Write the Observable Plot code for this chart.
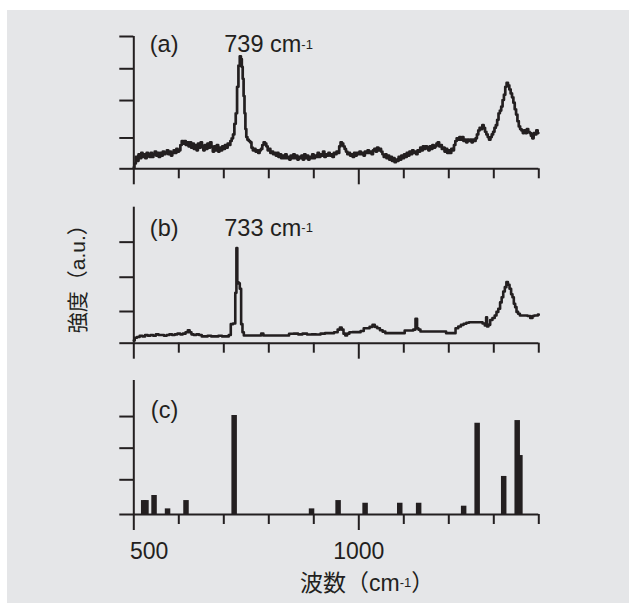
<!DOCTYPE html>
<html><head><meta charset="utf-8">
<script src="https://cdn.jsdelivr.net/npm/d3@7"></script>
<script src="https://cdn.jsdelivr.net/npm/@observablehq/plot@0.6"></script>
<style>
html,body{margin:0;padding:0;background:#fff;}
#wrap{position:relative;width:629px;height:603px;overflow:hidden;}
#bg{position:absolute;left:7px;top:10px;right:0;bottom:0;background:#e5e6e8;}
</style></head><body>
<div id="wrap"><div id="bg"></div></div>
<script>
// ---- data (wavenumber cm-1, relative intensity 0-100 of each panel) ----
const spectrumA = [[500,1],[503,4],[506,9],[509,6],[512,11],[515,8],[518,12],[521,9],[524,11],[527,8],[530,12],[533,10],[536,9],[539,12],[542,9],[545,11],[548,13],[551,10],[554,12],[557,9],[560,12],[563,10],[566,13],[569,11],[572,12],[575,14],[578,11],[581,13],[584,10],[587,12],[590,14],[593,12],[596,15],[599,13],[602,14],[605,18],[608,21],[611,19],[614,21],[617,18],[620,20],[623,17],[626,20],[629,16],[632,19],[635,15],[638,18],[641,14],[644,19],[647,16],[650,20],[653,17],[656,14],[659,18],[662,15],[665,19],[668,16],[671,20],[674,17],[677,13],[680,17],[683,14],[686,18],[689,13],[692,16],[695,14],[698,17],[701,15],[704,18],[707,16],[710,19],[713,18],[716,21],[719,23],[722,26],[725,34],[728,42],[731,62],[734,78],[737,85],[739,83],[741,77],[743,68],[745,55],[747,42],[749,30],[751,24],[754,22],[757,21],[760,20],[763,16],[766,14],[769,15],[772,13],[775,14],[778,12],[781,14],[784,15],[787,18],[790,20],[793,19],[796,17],[799,14],[802,15],[805,12],[808,13],[811,11],[814,12],[817,10],[820,12],[823,9],[826,11],[829,8],[832,10],[835,8],[838,11],[841,8],[844,9],[847,7],[850,10],[853,8],[856,11],[859,8],[862,10],[865,7],[868,9],[871,8],[874,10],[877,7],[880,11],[883,8],[886,10],[889,7],[892,9],[895,8],[898,11],[901,8],[904,10],[907,9],[910,12],[913,9],[916,11],[919,10],[922,13],[925,9],[928,11],[931,10],[934,12],[937,10],[940,11],[943,9],[946,12],[949,11],[952,13],[955,12],[958,17],[961,20],[964,19],[967,17],[970,15],[973,13],[976,11],[979,12],[982,10],[985,11],[988,9],[991,12],[994,10],[997,12],[1000,11],[1003,13],[1006,11],[1009,12],[1012,10],[1015,13],[1018,12],[1021,14],[1024,12],[1027,13],[1030,11],[1033,14],[1036,15],[1039,13],[1042,16],[1045,14],[1048,15],[1051,13],[1054,11],[1057,9],[1060,11],[1063,8],[1066,10],[1069,7],[1072,9],[1075,6],[1078,8],[1081,5],[1084,7],[1087,6],[1090,9],[1093,7],[1096,10],[1099,8],[1102,11],[1105,9],[1108,12],[1111,10],[1114,13],[1117,11],[1120,14],[1123,12],[1126,13],[1129,11],[1132,14],[1135,13],[1138,16],[1141,14],[1144,17],[1147,15],[1150,17],[1153,16],[1156,14],[1159,17],[1162,15],[1165,18],[1168,16],[1171,17],[1174,19],[1177,20],[1180,17],[1183,18],[1186,15],[1189,16],[1192,13],[1195,15],[1198,12],[1201,14],[1204,12],[1207,15],[1210,14],[1213,18],[1216,21],[1219,23],[1222,22],[1225,24],[1228,22],[1231,24],[1234,21],[1237,22],[1240,20],[1243,22],[1246,21],[1249,22],[1252,20],[1255,22],[1258,21],[1261,23],[1264,26],[1267,29],[1270,31],[1273,30],[1276,33],[1279,31],[1282,28],[1285,26],[1288,24],[1291,22],[1294,24],[1297,26],[1300,28],[1303,31],[1306,33],[1309,37],[1312,42],[1315,44],[1318,47],[1321,52],[1324,56],[1327,62],[1330,65],[1333,63],[1336,60],[1339,57],[1342,54],[1345,50],[1348,45],[1351,41],[1354,36],[1357,32],[1360,30],[1363,29],[1366,27],[1369,29],[1372,27],[1375,30],[1378,28],[1381,27],[1384,25],[1387,23],[1390,27],[1393,26],[1396,29],[1399,27]];

const spectrumB = [[500,2],[504,4],[510,4.5],[516,5.5],[522,5],[528,6],[534,5.5],[540,6],[546,5.5],[552,6.5],[558,6],[564,6],[570,5.5],[576,6],[582,6.5],[588,6],[594,6.5],[600,7],[606,6.5],[612,7],[618,8],[622,9.5],[626,8],[630,6.5],[636,6],[642,6.5],[648,6],[654,5],[660,5],[668,5.5],[676,5],[684,5],[692,5.5],[700,5],[708,5],[714,6],[717,14],[724,14.5],[727,37],[729,70],[731,45],[734,44],[737,40],[740,14],[743,8],[746,5.7],[750,5.7],[760,5.7],[770,5.7],[780,5.7],[786,7],[790,5.7],[800,5.7],[810,5.7],[820,5.7],[830,5.7],[840,5.7],[850,6.9],[860,7],[870,6.5],[880,7],[890,6.4],[900,6.5],[910,6.4],[920,7],[930,7.4],[940,7.4],[950,8],[956,10],[960,11.5],[964,10],[968,7],[972,5.7],[976,7],[982,8],[990,8.1],[1000,8.1],[1008,9],[1014,11],[1020,11],[1028,12],[1033,13.5],[1038,12],[1044,11],[1050,9.5],[1056,8.5],[1062,7.4],[1070,7.4],[1080,7.4],[1090,7.4],[1100,7.4],[1104,9.3],[1110,9.3],[1118,9.3],[1124,10],[1128,17.9],[1131,11],[1134,10],[1140,8.6],[1150,8.6],[1160,8.6],[1170,8.6],[1180,8.6],[1190,8.6],[1198,7.4],[1206,7.4],[1212,7.4],[1218,11],[1224,12.3],[1230,13.5],[1236,14.3],[1242,15],[1248,15.4],[1254,15.4],[1260,15.4],[1266,15.4],[1272,15.4],[1278,14.5],[1282,13],[1284,19],[1286,12.3],[1290,13.5],[1294,17],[1300,18.5],[1304,20.4],[1308,23],[1312,25.3],[1316,30],[1319,33.8],[1323,38],[1326,41.2],[1330,44.9],[1333,43],[1337,40],[1340,36],[1343,33.8],[1346,29],[1349,26.5],[1352,23],[1356,21.6],[1360,20.4],[1366,20.4],[1372,20.4],[1378,20],[1384,18.5],[1388,20],[1392,20.4],[1396,20.4],[1400,21]];

const barsC = [[522,10.4],[527,10.4],[545,14.2],[575,4.2],[616,10.4],[723,73.9],[895,4.2],[954,10.4],[1014,8.4],[1091,8.4],[1133,8.4],[1233,6.2],[1263,68.1],[1322,28.4],[1352,70.1],[1358,44]];

const yTicksA = [0, 23.3, 51.6, 75.6, 100];
const yTicksB = [0, 23.3, 48.5, 74.3];
const yTicksC = [0, 25.9, 49.5, 73.1];
const majorTicks = [500, 1000];
const minorTicks = [600, 700, 800, 900, 1100, 1200, 1300, 1400];
const tickLabels = ["500", "1000"];
const panelLabels = ["(a)", "(b)", "(c)"];
const peakLabels = ["739 cm-1", "733 cm-1"];
const xTitle = "波数（cm-1）";
const yTitle = "強度（a.u.）";

// ---- drawing ----
const ink = "#231f20";
const latin = "'Liberation Sans', Arial, Helvetica, sans-serif";
const mixed = "'Liberation Sans', 'Noto Sans CJK JP', sans-serif";
const wrap = document.getElementById("wrap");

function frameMarks(yTicks) {
  return [
    Plot.axisY({ticks: yTicks, tickSize: 14, tickFormat: () => "", strokeWidth: 2, label: null}),
    Plot.axisX({ticks: minorTicks, tickSize: 10, tickFormat: () => "", strokeWidth: 2, label: null}),
    Plot.axisX({ticks: majorTicks, tickSize: 16, tickFormat: () => "", strokeWidth: 2, label: null}),
    Plot.ruleX([500], {strokeWidth: 2}),
    Plot.ruleY([0], {strokeWidth: 2})
  ];
}

function superscriptify(svg) {
  d3.select(svg).selectAll("text").each(function () {
    const t = this.textContent;
    const i = t.indexOf("cm-1");
    if (i < 0) return;
    const before = t.slice(0, i + 2), after = t.slice(i + 4);
    const sel = d3.select(this);
    sel.text(null);
    sel.append("tspan").text(before);
    sel.append("tspan").attr("font-size", "13px").attr("dy", -3.8).text("-1");
    if (after) sel.append("tspan").attr("dy", 3.8).text(after);
  });
}

function panel(top, height, marginTop, marginBottom, marks) {
  const svg = Plot.plot({
    width: 629, height, marginTop, marginBottom, marginLeft: 133.3, marginRight: 90.7,
    x: {domain: [500, 1400]},
    y: {domain: [0, 100]},
    style: {background: "transparent", color: ink, fontFamily: latin, overflow: "visible"},
    marks
  });
  svg.style.position = "absolute";
  svg.style.left = "0px";
  svg.style.top = top + "px";
  superscriptify(svg);
  wrap.appendChild(svg);
}

const annot = {frameAnchor: "top-left", textAnchor: "start", lineAnchor: "bottom", fontSize: 23.5, fill: ink, fontFamily: latin, text: d => d};

// (a)
panel(0, 192.3, 36, 24, [
  ...frameMarks(yTicksA),
  Plot.line(spectrumA, {x: d => d[0], y: d => d[1], curve: "step", stroke: ink, strokeWidth: 2.7}),
  Plot.text([panelLabels[0]], {...annot, dx: 16, dy: 15.8}),
  Plot.text([peakLabels[0]], {...annot, dx: 90.5, dy: 15.8})
]);

// (b)
panel(172, 194.7, 34.7, 24, [
  ...frameMarks(yTicksB),
  Plot.line(spectrumB, {x: d => d[0], y: d => d[1], curve: "step", stroke: ink, strokeWidth: 2.6}),
  Plot.text([panelLabels[1]], {...annot, dx: 16, dy: 29}),
  Plot.text([peakLabels[1]], {...annot, dx: 90.5, dy: 29}),
  Plot.text([yTitle], {frameAnchor: "left", dx: -55.3, dy: -1.5, rotate: -90, textAnchor: "middle", lineAnchor: "middle", fontSize: 21, fill: ink, fontFamily: mixed, text: d => d})
]);

// (c)
panel(346, 250, 34, 82, [
  Plot.ruleX(barsC, {x: d => d[0], y1: 0, y2: d => d[1], stroke: ink, strokeWidth: 5.5}),
  ...frameMarks(yTicksC),
  Plot.text([panelLabels[2]], {...annot, dx: 17, dy: 37.5}),
  Plot.text([tickLabels[0]], {x: d => +d, text: d => d, frameAnchor: "bottom", textAnchor: "start", lineAnchor: "bottom", dx: -3.8, dy: 44.3, fontSize: 23, fill: ink, fontFamily: latin}),
  Plot.text(tickLabels.slice(1), {x: d => +d, text: d => d, frameAnchor: "bottom", textAnchor: "middle", lineAnchor: "bottom", dy: 44.3, fontSize: 23, fill: ink, fontFamily: latin}),
  Plot.text([xTitle], {frameAnchor: "bottom", textAnchor: "middle", lineAnchor: "bottom", dx: 30.8, dy: 76, fontSize: 23, fill: ink, fontFamily: mixed, text: d => d})
]);
</script>
</body></html>
